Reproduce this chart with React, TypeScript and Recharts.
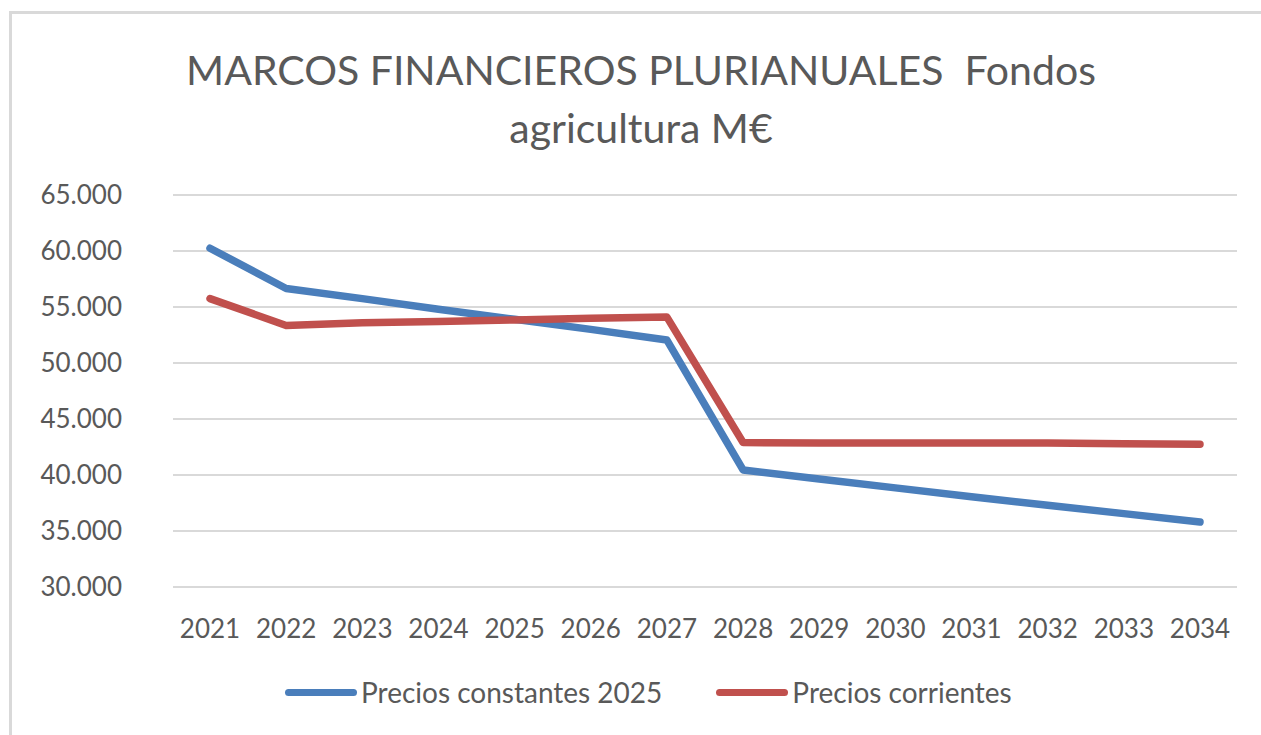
import { LineChart, Line, XAxis, YAxis, CartesianGrid } from "recharts";

const years = ["2021", "2022", "2023", "2024", "2025", "2026", "2027", "2028", "2029", "2030", "2031", "2032", "2033", "2034"];
const constantes = [60250, 56650, 55750, 54800, 53900, 53000, 52050, 40450, 39650, 38850, 38050, 37300, 36550, 35800];
const corrientes = [55750, 53350, 53600, 53700, 53850, 54000, 54100, 42900, 42850, 42850, 42850, 42850, 42800, 42750];
const yTicks = [30000, 35000, 40000, 45000, 50000, 55000, 60000, 65000];

const seriesNames = ["Precios constantes 2025", "Precios corrientes"];
const seriesColors = ["#4a7ebb", "#c0504d"];

const data = years.map((year, i) => ({
    year,
    constantes: constantes[i],
    corrientes: corrientes[i],
}));

const font = "Lato, 'Open Sans', sans-serif";
const textColor = "#595959";

const fmt = (v: number) => v.toLocaleString("de-DE", { minimumFractionDigits: 0 }).replace(/,/g, ".");

export default function App() {
    return (
        <div style={{ position: "absolute", left: 0, top: 0, width: 1261, height: 735, background: "#fff", overflow: "hidden", fontFamily: font }}>
            {/* chart frame */}
            <div style={{ position: "absolute", left: 9, top: 11, width: 1300, height: 800, borderLeft: "3px solid #d9d9d9", borderTop: "3px solid #d9d9d9" }} />

            {/* Title */}
            <div
                style={{
                    position: "absolute",
                    left: 0,
                    width: 1282,
                    top: 41,
                    textAlign: "center",
                    fontSize: 41,
                    lineHeight: "58px",
                    color: textColor,
                }}
            >
                MARCOS FINANCIEROS PLURIANUALES&nbsp; Fondos
                <br />
                agricultura M€
            </div>

            <div style={{ position: "absolute", left: 0, top: 0 }}>
                <LineChart width={1261} height={735} data={data} margin={{ top: 195, right: 24, bottom: 108, left: 0 }}>
                    <CartesianGrid vertical={false} stroke="#d9d9d9" strokeWidth={2} />
                    <XAxis
                        dataKey="year"
                        padding={{ left: 37, right: 37 }}
                        axisLine={false}
                        tickLine={false}
                        tickSize={0}
                        tickMargin={33}
                        height={40}
                        interval={0}
                        tick={{ fill: textColor, fontSize: 26, fontFamily: font }}
                    />
                    <YAxis
                        domain={[30000, 65000]}
                        ticks={yTicks}
                        width={173}
                        axisLine={false}
                        tickLine={false}
                        tickSize={0}
                        tickMargin={51}
                        tickFormatter={fmt}
                        tick={{ fill: textColor, fontSize: 26, fontFamily: font }}
                    />
                    <Line
                        type="linear"
                        dataKey="constantes"
                        name={seriesNames[0]}
                        stroke={seriesColors[0]}
                        strokeWidth={7.5}
                        strokeLinecap="round"
                        strokeLinejoin="round"
                        dot={false}
                        isAnimationActive={false}
                    />
                    <Line
                        type="linear"
                        dataKey="corrientes"
                        name={seriesNames[1]}
                        stroke={seriesColors[1]}
                        strokeWidth={7.5}
                        strokeLinecap="round"
                        strokeLinejoin="round"
                        dot={false}
                        isAnimationActive={false}
                    />
                </LineChart>
            </div>

            {/* Legend */}
            <div style={{ position: "absolute", top: 673, left: 285, display: "flex", alignItems: "center", fontSize: 28, color: textColor, lineHeight: "38px" }}>
                {seriesNames.map((name, i) => (
                    <div key={name} style={{ display: "flex", alignItems: "center", marginRight: i === 0 ? 54 : 0 }}>
                        <span style={{ display: "inline-block", width: 72, height: 7, borderRadius: 4, background: seriesColors[i], marginRight: 4 }} />
                        <span>{name}</span>
                    </div>
                ))}
            </div>
        </div>
    );
}
